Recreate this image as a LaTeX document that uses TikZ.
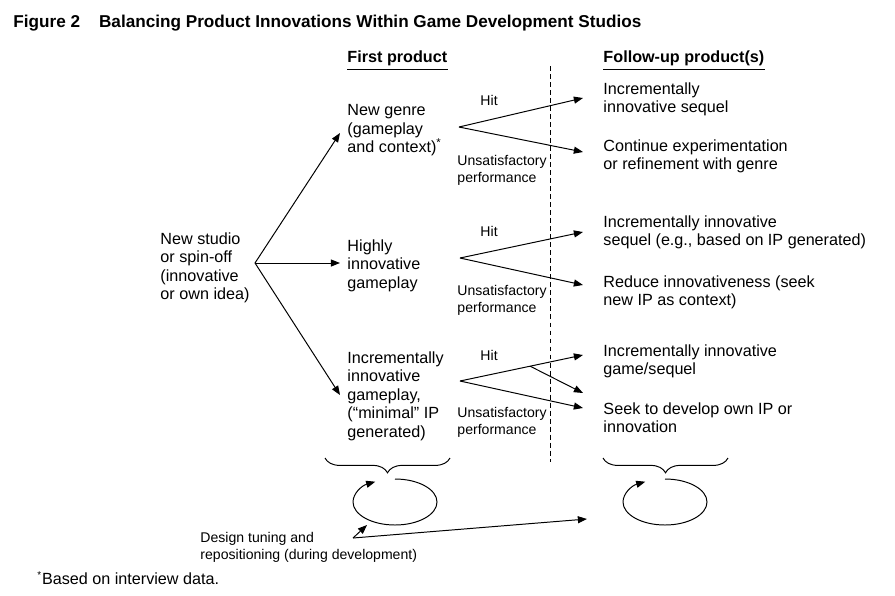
\documentclass[tikz,border=0pt]{standalone}
\usepackage{fontspec}
\setmainfont{Liberation Sans}
\usetikzlibrary{arrows.meta,decorations.pathreplacing,calc,positioning}

\begin{document}
\begin{tikzpicture}[x=0.025cm, y=-0.025cm, line width=0.7pt, >={Triangle[length=6.5pt,width=5pt]},
	txt/.style={anchor=north west, align=left, inner sep=0pt, font=\fontsize{11.5}{13.2}\selectfont},
	sml/.style={anchor=north west, align=left, inner sep=0pt, font=\fontsize{10}{12}\selectfont},
	head/.style={anchor=base west, inner xsep=0pt, inner ysep=2.5pt, font=\fontsize{11.5}{13.8}\selectfont\bfseries},
	brc/.style={decorate, decoration={brace, mirror, amplitude=10.5pt}}]
	\useasboundingbox (0,0) rectangle (895,595);
	\node[anchor=base west, inner sep=0pt, font=\fontsize{12.2}{14}\selectfont\bfseries] (title) at (13,27)
		{Figure 2\hspace{1.1em}Balancing Product Innovations Within Game Development Studios};
	\node[head] (hd1) at (347,62) {First product};
	\node[head] (hd2) at (603,62) {Follow-up product(s)};
	\draw (hd1.south west) -- (hd1.south east);
	\draw (hd2.south west) -- (hd2.south east);

	\node[txt] (std) at (160,232) {New studio\\or spin-off\\(innovative\\or own idea)};
	\node[txt] (fp1) at (347,104) {New genre\\(gameplay\\and context)\textsuperscript{*}};
	\node[txt] (fp2) at (347,239) {Highly\\innovative\\gameplay};
	\node[txt] (fp3) at (347,351) {Incrementally\\innovative\\gameplay,\\(``minimal'' IP\\generated)};

	\node[txt] (r1) at (603,82) {Incrementally\\innovative sequel};
	\node[txt] (r2) at (603,139) {Continue experimentation\\or refinement with genre};
	\node[txt] (r3) at (603,215) {Incrementally innovative\\sequel (e.g., based on IP generated)};
	\node[txt] (r4) at (603,275) {Reduce innovativeness (seek\\new IP as context)};
	\node[txt] (r5) at (603,344) {Incrementally innovative\\game/sequel};
	\node[txt] (r6) at (603,402) {Seek to develop own IP or\\innovation};

	\node[sml] (hit1) at (480,95) {Hit};
	\node[sml] (hit2) at (480,226) {Hit};
	\node[sml] (hit3) at (480,350) {Hit};
	\node[sml] (uns1) at (457,155) {Unsatisfactory\\performance};
	\node[sml] (uns2) at (457,285) {Unsatisfactory\\performance};
	\node[sml] (uns3) at (457,407) {Unsatisfactory\\performance};

	\coordinate (src) at (255,263);
	\coordinate (t1) at (340,133);
	\coordinate (t2) at (340,263);
	\coordinate (t3) at (340,395);
	\path[->] (src) edge (t1) edge (t2) edge (t3);

	\coordinate (b1) at (459,127);
	\coordinate (b2) at (460,258);
	\coordinate (b3) at (460,381);
	\coordinate (h1) at (583,98);
	\coordinate (u1) at (583,152);
	\coordinate (h2) at (583,232);
	\coordinate (u2) at (583,285);
	\coordinate (h3) at (583,355);
	\coordinate (u3) at (583,408);
	\coordinate (m3) at (583,393);
	\coordinate (sp) at ($(b3)!0.57!(h3)$);
	\path[->] (b1) edge (h1) edge (u1);
	\path[->] (b2) edge (h2) edge (u2);
	\path[->] (b3) edge (h3) edge (u3);
	\path[->] (sp) edge (m3);

	\draw[dash pattern=on 3.5pt off 2.2pt] (550,66) -- (550,462);

	\draw[brc] (325,458) -- (450,458);
	\draw[brc] (603,458) -- (728,458);
	\draw[->] (395,479) arc[start angle=-90, end angle=242, x radius=42, y radius=23];
	\draw[->] (665,479) arc[start angle=-90, end angle=242, x radius=42, y radius=23];

	\node[sml] (dtl) at (200,532) {Design tuning and\\repositioning (during development)};
	\coordinate (dt) at (353,538);
	\coordinate (lp1) at (367,525);
	\coordinate (lp2) at (587,519);
	\path[->] (dt) edge (lp1) edge (lp2);

	\node[anchor=north west, inner sep=0pt, font=\fontsize{11.5}{13}\selectfont] (fn) at (37,571)
		{\textsuperscript{\scriptsize *}Based on interview data.};
\end{tikzpicture}
\end{document}
